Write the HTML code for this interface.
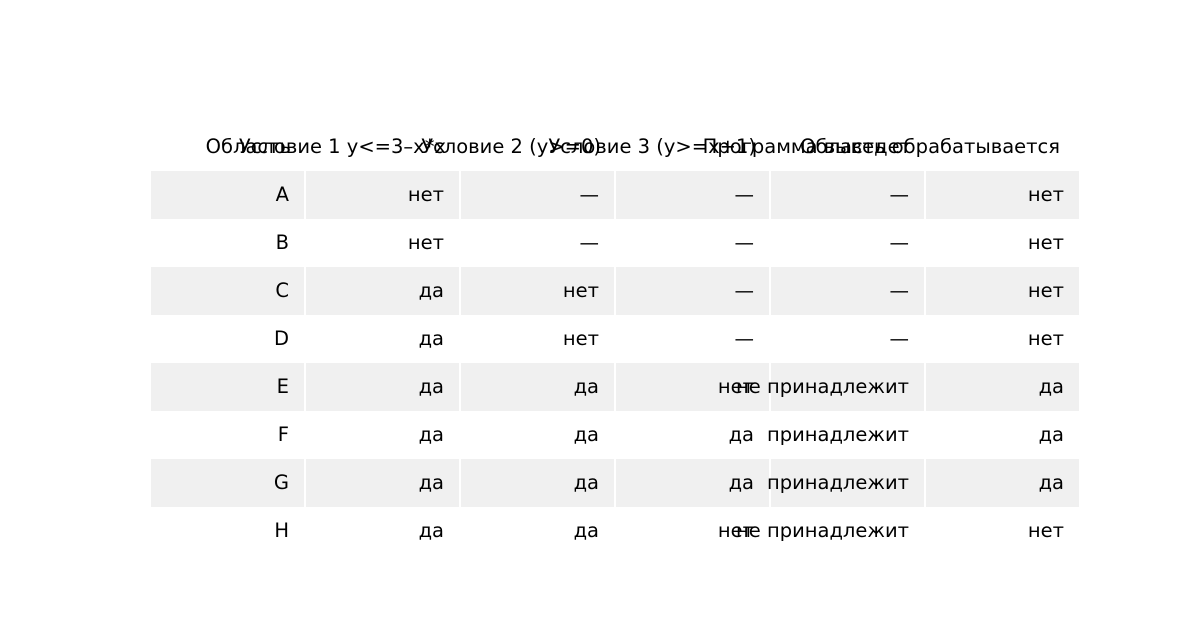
<!DOCTYPE html>
<html><head><meta charset="utf-8"><style>
body{margin:0;width:1200px;height:625px;background:#fff;font-family:"DejaVu Sans","Liberation Sans",sans-serif;font-size:19.5px;color:#000;position:relative;overflow:hidden}
.r{position:absolute;left:151px;width:930px;height:48px}
.g{background:#f0f0f0}
.c{position:absolute;width:155px;height:48px;box-sizing:border-box;border-right:2px solid #fff}
.t{position:absolute;right:15px;top:0;line-height:48px;white-space:nowrap}
</style></head><body>
<div id="w"></div>
<script>
var H=["Область","Условие 1 y<=3–x*x","Условие 2 (y>=0)","Условие 3 (y>=x+1)","Программа выведет","Область обрабатывается"];
var D=[["A","нет","—","—","—","нет"],["B","нет","—","—","—","нет"],["C","да","нет","—","—","нет"],["D","да","нет","—","—","нет"],["E","да","да","нет","не принадлежит","да"],["F","да","да","да","принадлежит","да"],["G","да","да","да","принадлежит","да"],["H","да","да","нет","не принадлежит","нет"]];
var s='<div class="r" style="top:123px">';
H.forEach(function(h,i){s+='<div class="c" style="left:'+i*155+'px;border:none"><span class="t"'+(i==5?' style="right:21px"':'')+'>'+h.replace(/</g,'&lt;').replace(/>/g,'&gt;')+'</span></div>'});
s+='</div>';
D.forEach(function(r,j){s+='<div class="r'+(j%2==0?' g':'')+'" style="top:'+(171+48*j)+'px">';
r.forEach(function(v,i){s+='<div class="c" style="left:'+i*155+'px"><span class="t">'+v+'</span></div>'});s+='</div>'});
document.getElementById('w').innerHTML=s;
</script>
</body></html>
